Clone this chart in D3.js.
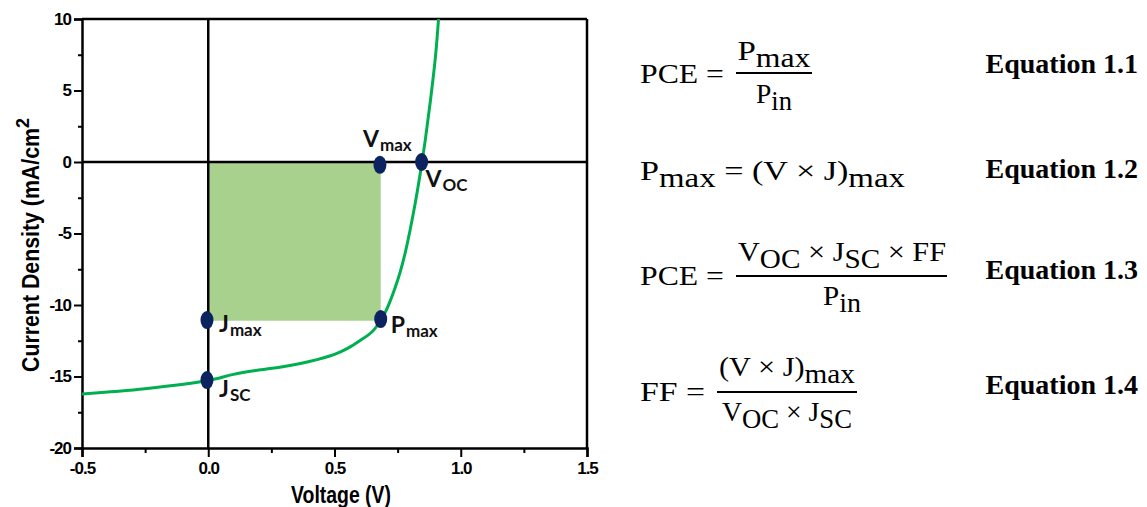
<!DOCTYPE html>
<html><head><meta charset="utf-8">
<script src="https://cdn.jsdelivr.net/npm/d3@7"></script>
<style>html,body{margin:0;padding:0;background:#fff;}svg{display:block;}</style>
</head><body>
<script>
// ---- data ----
const curveV = [-0.5, -0.25, 0, 0.1, 0.2, 0.3, 0.4, 0.5, 0.55, 0.6, 0.65, 0.68, 0.7, 0.72, 0.74, 0.76, 0.78, 0.8, 0.82, 0.84, 0.86, 0.88, 0.9, 0.912];
const curveJ = [-16.22, -15.85, -15.28, -14.85, -14.55, -14.3, -13.95, -13.45, -13.05, -12.5, -11.85, -11.15, -10.55, -9.75, -8.8, -7.7, -6.35, -4.7, -2.85, -0.75, 1.6, 4.3, 7.4, 10];
const keyNames = ["V", "V", "J", "J", "P"];
const keySubs = ["max", "OC", "max", "SC", "max"];
const keyV = [0.68, 0.845, -0.005, -0.005, 0.683];
const keyJ = [-0.2, 0, -11.05, -15.25, -10.98];
const rectV = [0, 0.683];
const rectJ = [0, -11.1];
const xMajor = [-0.5, 0, 0.5, 1.0, 1.5];
const xMinor = [-0.25, 0.25, 0.75, 1.25];
const yMajor = [-20, -15, -10, -5, 0, 5, 10];
const yMinor = [-17.5, -12.5, -7.5, -2.5, 2.5, 7.5];
const xTitle = "Voltage (V)";
const yTitle = "Current Density (mA/cm";
const eqLabels = ["Equation 1.1", "Equation 1.2", "Equation 1.3", "Equation 1.4"];

// ---- layout ----
const W = 1147, H = 507;
const svg = d3.select("body").append("svg").attr("width", W).attr("height", H);
const x = d3.scaleLinear().domain([-0.5, 1.5]).range([82, 587]);
const y = d3.scaleLinear().domain([-20, 10]).range([448, 19]);
const axisFont = "'Liberation Sans', Arial, sans-serif";

// fill rectangle
svg.append("rect")
  .attr("x", x(rectV[0])).attr("y", y(rectJ[0]))
  .attr("width", x(rectV[1]) - x(rectV[0]))
  .attr("height", y(rectJ[1]) - y(rectJ[0]))
  .attr("fill", "#a9d18e");

// zero lines
svg.append("line").attr("x1", x(0)).attr("x2", x(0)).attr("y1", y(10)).attr("y2", y(-20))
  .attr("stroke", "#000").attr("stroke-width", 2.5);
svg.append("line").attr("x1", x(-0.5)).attr("x2", x(1.5)).attr("y1", y(0)).attr("y2", y(0))
  .attr("stroke", "#000").attr("stroke-width", 2.5);

// frame top/right
svg.append("line").attr("x1", x(-0.5)).attr("x2", x(1.5)).attr("y1", y(10)).attr("y2", y(10))
  .attr("stroke", "#000").attr("stroke-width", 2.5);
svg.append("line").attr("x1", x(1.5)).attr("x2", x(1.5)).attr("y1", y(10)).attr("y2", y(-20))
  .attr("stroke", "#000").attr("stroke-width", 2.5);

function styleAxis(g) {
  g.select(".domain").attr("stroke-width", 2.5);
  g.selectAll(".tick line").attr("stroke-width", 2);
  g.selectAll("text").attr("font-family", axisFont).attr("font-weight", "bold")
    .attr("font-size", 17).attr("fill", "#000").attr("letter-spacing", "-1px");
}
// x axis
const gx = svg.append("g").attr("transform", `translate(0,${y(-20)})`)
  .call(d3.axisBottom(x).tickValues(xMajor).tickSize(9).tickPadding(5).tickFormat(d => d.toFixed(1)));
styleAxis(gx);
const gx2 = svg.append("g").attr("transform", `translate(0,${y(-20)})`)
  .call(d3.axisBottom(x).tickValues(xMinor).tickSize(5).tickFormat(""));
gx2.select(".domain").remove();
gx2.selectAll(".tick line").attr("stroke-width", 2);

// y axis
const gy = svg.append("g").attr("transform", `translate(${x(-0.5)},0)`)
  .call(d3.axisLeft(y).tickValues(yMajor).tickSize(8).tickPadding(3).tickFormat(d => String(d)));
styleAxis(gy);
const gy2 = svg.append("g").attr("transform", `translate(${x(-0.5)},0)`)
  .call(d3.axisLeft(y).tickValues(yMinor).tickSize(4).tickFormat(""));
gy2.select(".domain").remove();
gy2.selectAll(".tick line").attr("stroke-width", 2);

// axis titles
svg.append("text").attr("x", 341).attr("y", 503).attr("text-anchor", "middle")
  .attr("font-family", axisFont).attr("font-weight", "bold").attr("font-size", 23)
  .attr("textLength", 100).attr("lengthAdjust", "spacingAndGlyphs")
  .text(xTitle);
const yt = svg.append("text").attr("transform", "translate(39,372) rotate(-90)")
  .attr("text-anchor", "start")
  .attr("font-family", axisFont).attr("font-weight", "bold").attr("font-size", 24);
yt.append("tspan").attr("textLength", 244).attr("lengthAdjust", "spacingAndGlyphs").text(yTitle);
yt.append("tspan").attr("dy", -10).attr("font-size", 18).text("2");

// curve
const pts = curveV.map((v, i) => [v, curveJ[i]]);
svg.append("path").datum(pts)
  .attr("d", d3.line().x(d => x(d[0])).y(d => y(d[1])).curve(d3.curveCatmullRom.alpha(0.5)))
  .attr("fill", "none").attr("stroke", "#00b050").attr("stroke-width", 3);

// key points
const keys = keyV.map((v, i) => ({v, j: keyJ[i], n: keyNames[i], s: keySubs[i]}));
svg.selectAll("ellipse.k").data(keys).join("ellipse")
  .attr("cx", d => x(d.v)).attr("cy", d => y(d.j)).attr("rx", 6.5).attr("ry", 9)
  .attr("fill", "#0b2460");

const labelOff = [[-17, -18], [4, 25], [12, 12], [12, 17], [10, 14]];
const lbl = svg.selectAll("text.k").data(keys).join("text")
  .attr("x", (d, i) => x(d.v) + labelOff[i][0]).attr("y", (d, i) => y(d.j) + labelOff[i][1])
  .attr("font-family", "Lato, 'Open Sans', sans-serif").attr("fill", "#111");
lbl.append("tspan").attr("font-weight", "bold").attr("font-size", 23).text(d => d.n);
lbl.append("tspan").attr("font-size", 17).attr("font-weight", "bold").attr("dy", 4).attr("dx", 1).text(d => d.s);

// ---- equations ----
const mf = "'Liberation Serif', 'Times New Roman', serif";
const FS = 28, SS = 27;
function mtext(xp, yp, parts, anchor, len) {
  const t = svg.append("text").attr("x", xp).attr("y", yp).attr("font-family", mf)
    .attr("font-size", FS).attr("fill", "#000").attr("text-anchor", anchor || "start");
  if (len) t.attr("textLength", len).attr("lengthAdjust", "spacingAndGlyphs");
  let low = 0;
  parts.forEach(p => {
    const ts = t.append("tspan").text(p[0]);
    if (p[1]) { ts.attr("font-size", SS).attr("dy", 7 - low); low = 7; }
    else { ts.attr("dy", -low); low = 0; }
  });
  return t;
}
function bar(x1, x2, yy) {
  svg.append("line").attr("x1", x1).attr("x2", x2).attr("y1", yy).attr("y2", yy)
    .attr("stroke", "#000").attr("stroke-width", 2.2);
}
// Eq 1.1
mtext(640, 83, [["PCE ="]], "start", 84);
mtext(774, 60, [["P"], ["max", 1]], "middle", 73);
bar(736, 812, 73);
mtext(774, 103, [["P"], ["in", 1]], "middle", 36);
// Eq 1.2
mtext(640, 180, [["P"], ["max", 1], [" = (V × J)"], ["max", 1]], "start", 265);
// Eq 1.3
mtext(640, 285, [["PCE ="]], "start", 84);
mtext(842, 261, [["V"], ["OC", 1], [" × J"], ["SC", 1], [" × FF"]], "middle", 208);
bar(736, 947, 276);
mtext(842, 305, [["P"], ["in", 1]], "middle", 38);
// Eq 1.4
mtext(640, 401, [["FF ="]], "start", 65);
mtext(787, 376, [["(V × J)"], ["max", 1]], "middle", 136);
bar(717, 857, 392);
mtext(787, 421, [["V"], ["OC", 1], [" × J"], ["SC", 1]], "middle", 130);

const eqY = [73, 178, 279, 394];
svg.selectAll("text.eq").data(eqLabels).join("text")
  .attr("x", 1138).attr("y", (d, i) => eqY[i]).attr("text-anchor", "end")
  .attr("font-family", mf).attr("font-weight", "bold").attr("font-size", 28).attr("fill", "#000")
  .text(d => d);
</script>
</body></html>
